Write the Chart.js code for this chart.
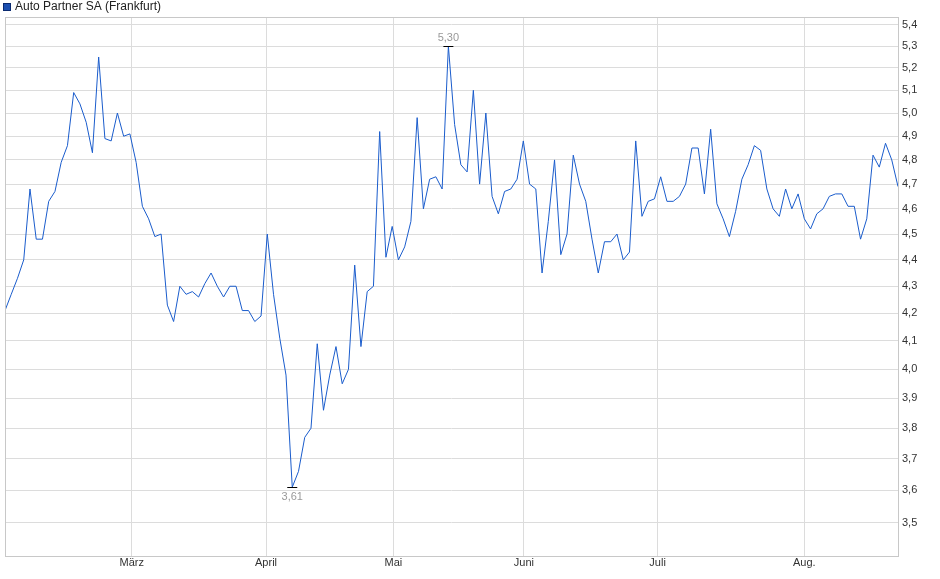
<!DOCTYPE html>
<html><head><meta charset="utf-8">
<script src="https://cdn.jsdelivr.net/npm/chart.js@4"></script>
<style>html,body{margin:0;padding:0;background:#fff}#w{position:relative;width:940px;height:579px}</style>
</head><body><div id="w"><canvas id="c" width="940" height="579"></canvas></div>
<script>
const title = "Auto Partner SA (Frankfurt)";
const prices = [
4.21,4.27,4.33,4.40,4.68,4.48,4.48,4.63,4.67,4.79,4.86,5.09,5.04,4.96,4.83,5.25,4.89,4.88,5.00,4.90,
4.91,4.79,4.61,4.56,4.49,4.50,4.23,4.17,4.30,4.27,4.28,4.26,4.31,4.35,4.30,4.26,4.30,4.30,4.21,4.21,
4.17,4.19,4.50,4.27,4.11,3.98,3.61,
3.66,3.77,3.80,4.09,3.86,3.98,4.08,3.95,4.00,4.38,4.08,4.28,4.30,4.92,4.41,4.53,4.40,4.45,4.55,4.98,
4.60,4.72,4.73,4.68,5.30,
4.95,4.78,4.75,5.10,4.70,5.00,4.65,4.58,4.67,4.68,4.72,4.88,4.70,4.68,4.35,4.55,4.80,4.42,4.50,4.82,
4.70,4.63,4.48,4.35,4.47,4.47,4.50,4.40,4.43,4.88,
4.57,4.63,4.64,4.73,4.63,4.63,4.65,4.70,4.85,4.85,4.66,4.93,4.62,4.56,4.49,4.59,4.72,4.78,4.86,4.84,
4.68,4.60,4.57,4.68,4.60,4.66,4.56,4.52,4.58,4.60,4.65,4.66,4.66,4.61,4.61,4.48,4.56,4.82,4.77,4.87,
4.80,4.69];
const monthPos = [20.3, 41.8, 62.2, 83.1, 104.5, 128];
const monthNames = ["März","April","Mai","Juni","Juli","Aug."];
const yTicks = [3.5,3.6,3.7,3.8,3.9,4.0,4.1,4.2,4.3,4.4,4.5,4.6,4.7,4.8,4.9,5.0,5.1,5.2,5.3,5.4];

const pts = prices.map((v,i)=>({x:i,y:v}));
const maxI = prices.indexOf(Math.max(...prices));
const minI = prices.indexOf(Math.min(...prices));
const FONT = "Arial, 'Liberation Sans', sans-serif";

const extras = {
  id:'extras',
  afterDraw(ch){
    const c=ch.ctx, a=ch.chartArea, xs=ch.scales.x, ys=ch.scales.y;
    c.save();
    c.strokeStyle='#c8c8c8'; c.lineWidth=1;
    c.strokeRect(a.left+0.5,a.top+0.5,a.right-a.left,a.bottom-a.top);
    c.fillStyle='#1c4fb0'; c.fillRect(3,3,8,8);
    c.strokeStyle='#0a2a70'; c.strokeRect(3.5,3.5,7,7);
    c.fillStyle='#222'; c.font='12px '+FONT; c.textBaseline='middle'; c.textAlign='left';
    c.fillText(title,15,7);
    c.strokeStyle='#000'; c.lineWidth=1; c.font='11px '+FONT; c.fillStyle='#999'; c.textAlign='center';
    [[maxI,-1],[minI,1]].forEach(([i,d])=>{
      const px=xs.getPixelForValue(i), py=Math.round(ys.getPixelForValue(prices[i]))+0.5;
      c.beginPath(); c.moveTo(px-5,py); c.lineTo(px+5,py); c.stroke();
      c.fillText(prices[i].toFixed(2).replace('.',','),px,py+d*9);
    });
    c.restore();
  }
};

new Chart(document.getElementById('c'),{
  type:'line',
  data:{datasets:[{data:pts,borderColor:'#1a5ccc',borderWidth:1,pointRadius:0,tension:0,fill:false}]},
  options:{
    responsive:false,animation:false,
    layout:{padding:{left:5,top:17,right:0,bottom:0}},
    plugins:{legend:{display:false},tooltip:{enabled:false}},
    scales:{
      x:{type:'linear',min:0,max:prices.length-1,
        afterBuildTicks(s){s.ticks=monthPos.map(v=>({value:v}));},
        afterFit(s){s.height=23;},
        ticks:{autoSkip:false,maxRotation:0,color:'#333',font:{size:11,family:FONT},padding:0,
          callback:(v,i)=>monthNames[i]},
        grid:{color:'#dcdcdc',drawTicks:false},border:{display:false}},
      y:{type:'logarithmic',position:'right',min:3.438,max:5.436,
        afterBuildTicks(s){s.ticks=yTicks.map(v=>({value:v}));},
        afterFit(s){s.width=42;},
        ticks:{color:'#333',font:{size:11,family:FONT},padding:4,
          callback:v=>v.toFixed(1).replace('.',',')},
        grid:{color:'#dcdcdc',drawTicks:false},border:{display:false}}
    }
  },
  plugins:[extras]
});
</script></body></html>
